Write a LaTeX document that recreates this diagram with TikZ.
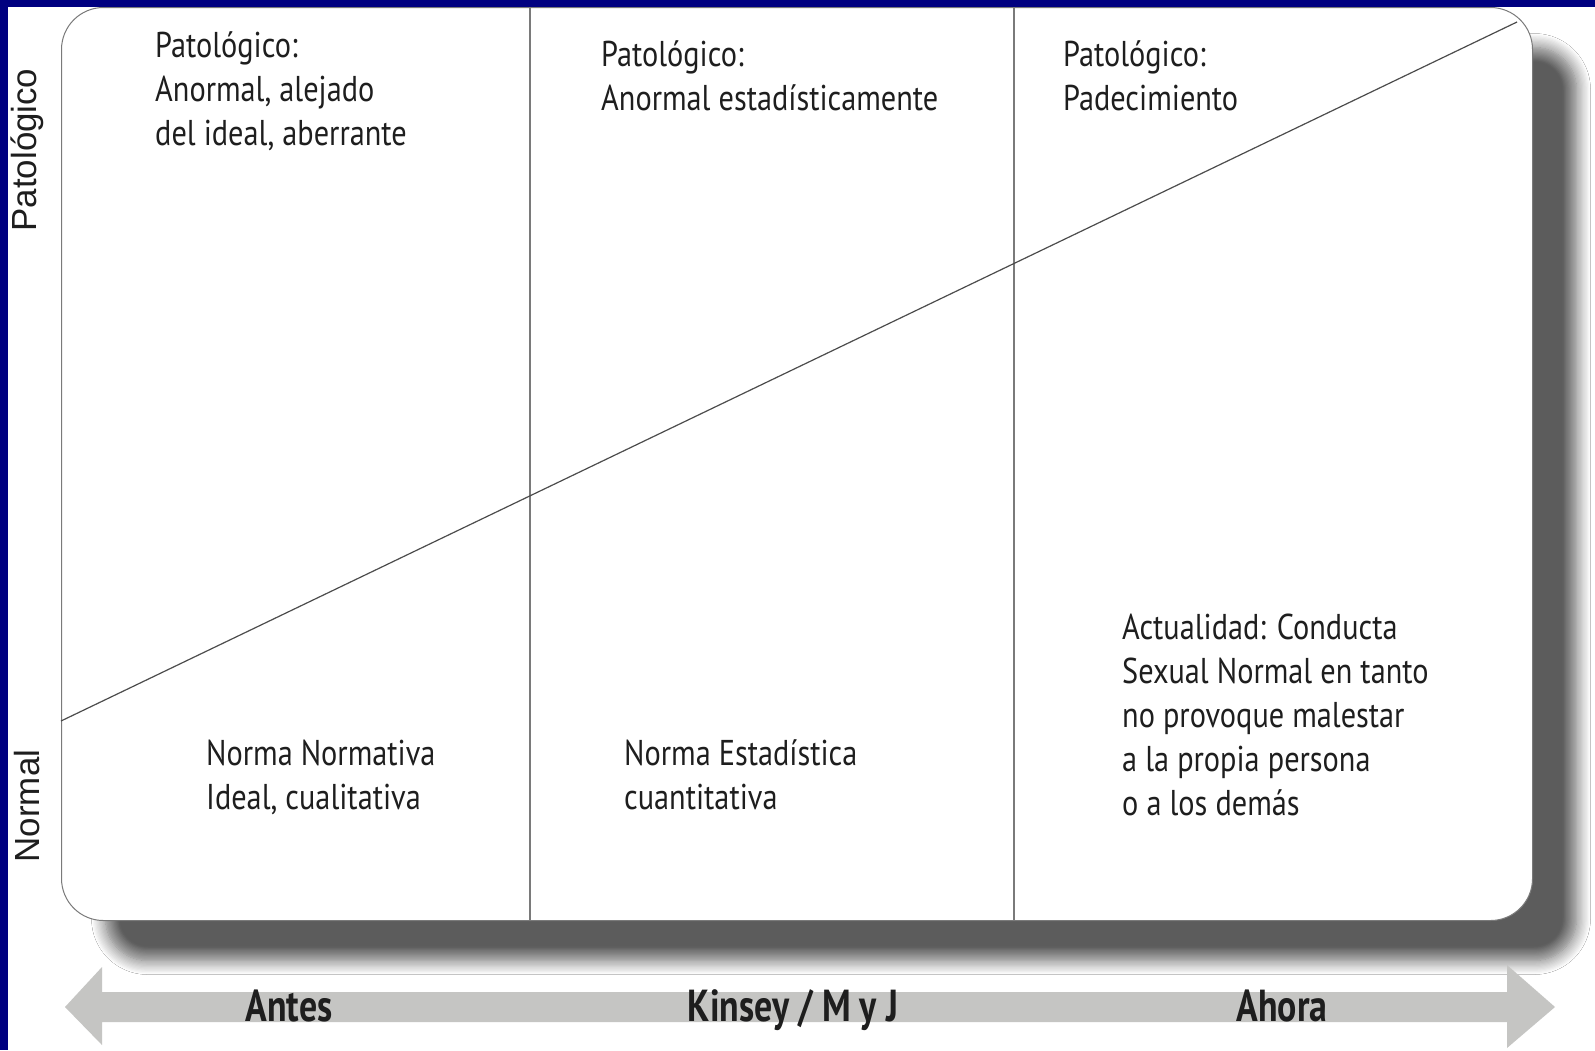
\documentclass[tikz,border=0pt]{standalone}
\usepackage{fontspec}
\setmainfont[FakeStretch=0.845]{PT Sans}
\newfontfamily\erafont[FakeStretch=0.8]{PT Sans}
\newfontfamily\sidefont{Liberation Sans}
\usepackage{tikz}
\usetikzlibrary{positioning,shadows.blur}
\definecolor{slidenavy}{HTML}{000080}
\definecolor{arrowgray}{HTML}{C5C5C3}
\definecolor{linegray}{HTML}{7A7A7A}
\definecolor{inkgray}{HTML}{1E1E1E}

\begin{document}
\begin{tikzpicture}[x=1bp,y=-1bp,
panel/.style={draw=linegray,line width=1bp,fill=white,rounded corners=42bp,
  blur shadow={shadow xshift=44bp,shadow yshift=-40bp,shadow opacity=64,
  shadow blur radius=14bp,shadow blur steps=12}},
cell/.style={anchor=base west,inner sep=0pt,align=left,text=inkgray,
  font=\fontsize{36}{44}\selectfont},
side/.style={rotate=90,inner sep=0pt,text=inkgray,
  font=\sidefont\fontsize{35}{40}\selectfont},
era/.style={anchor=base,inner sep=0pt,text=inkgray,
  font=\erafont\bfseries\fontsize{45}{50}\selectfont},
divider/.style={draw=linegray,line width=1.5bp}]
\useasboundingbox (0,0) rectangle (1595,1050);
\fill[white] (0,0) rectangle (1595,1050);
\fill[slidenavy] (0,0) rectangle (8,1050);
\fill[slidenavy] (0,0) rectangle (1595,7);
% board with shadow
\node[panel,anchor=north west,minimum width=1471bp,minimum height=913bp] (board) at (61,7) {};
% bottom time arrow
\fill[arrowgray] (65,1007) -- (102,967) -- (102,992) -- (1507,992) -- (1507,965)
  -- (1555,1007) -- (1507,1048) -- (1507,1022) -- (102,1022) -- (102,1045) -- cycle;
% columns and diagonal
\coordinate (c1top) at (530,7);
\coordinate (c1bot) at (530,920);
\coordinate (c2top) at (1014,7);
\coordinate (c2bot) at (1014,920);
\coordinate (diagA) at (61,721);
\coordinate (diagB) at (1517,22);
\draw[divider] (c1top) -- (c1bot);
\draw[divider] (c2top) -- (c2bot);
\draw[draw=black!70,line width=1.2bp] (diagA) -- (diagB);
% texts (base = last line)
\node[cell] (pat1) at (155,145) {Patológico:\\Anormal, alejado\\del ideal, aberrante};
\node[cell] (pat2) at (601,110) {Patológico:\\Anormal estadísticamente};
\node[cell] (pat3) at (1063,110) {Patológico:\\Padecimiento};
\node[cell] (norm1) at (206,809) {Norma Normativa\\Ideal, cualitativa};
\node[cell] (norm2) at (624,809) {Norma Estadística\\cuantitativa};
\node[cell] (norm3) at (1122,815) {Actualidad: Conducta\\Sexual Normal en tanto\\no provoque malestar\\a la propia persona\\o a los demás};
\node[side] (patside) at (27,150) {Patológico};
\node[side] (normside) at (27,806) {Normal};
\node[era] (antes) at (289,1021) {Antes};
\node[era] (kinsey) at (793,1021) {Kinsey / M y J};
\node[era] (ahora) at (1282,1021) {Ahora};
\end{tikzpicture}
\end{document}
